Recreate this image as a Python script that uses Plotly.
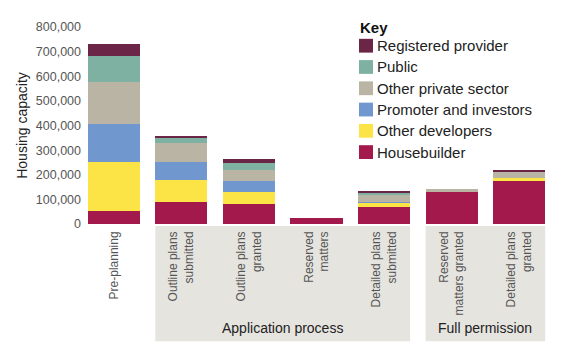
import plotly.graph_objects as go

categories = ["Pre-planning", "Outline plans<br>submitted", "Outline plans<br>granted",
              "Reserved<br>matters", "Detailed plans<br>submitted",
              "Reserved<br>matters granted", "Detailed plans<br>granted"]

housebuilder = [53000, 88000, 83000, 25000, 69000, 128000, 173000]
other_developers = [200000, 91000, 49000, 0, 17000, 0, 12000]
promoter_investors = [152000, 73000, 44000, 0, 4000, 0, 0]
other_private = [171000, 77000, 43000, 0, 31000, 13000, 27000]
public = [107000, 20000, 30000, 0, 8000, 0, 0]
registered_provider = [50000, 10000, 15000, 0, 7000, 0, 8000]

series_names = ["Housebuilder", "Other developers", "Promoter and investors",
                "Other private sector", "Public", "Registered provider"]
series_values = [housebuilder, other_developers, promoter_investors,
                 other_private, public, registered_provider]
series_colors = ["#a3194b", "#fce446", "#7098cf", "#bab4a5", "#7fb1a3", "#6b2546"]

y_ticks = [0, 100000, 200000, 300000, 400000, 500000, 600000, 700000, 800000]

groups = [("Application process", 1, 4), ("Full permission", 5, 6)]

FONT = "Liberation Sans, Arial, sans-serif"
OFF = 8  # page body margin
W, H = 585 - OFF, 359 - OFF
ML, MR, MT, MB = 80 - OFF, 32, 24 - OFF, 135
PW, PH = W - ML - MR, H - MT - MB
BARGAP = 0.23
HALF = (1 - BARGAP) / 2


def px(xp):
    return (xp - OFF - ML) / PW


def py(yp):
    return (MT + PH - (yp - OFF)) / PH


fig = go.Figure()
for name, vals, col in zip(series_names, series_values, series_colors):
    fig.add_trace(go.Bar(x=list(range(len(categories))), y=vals, name=name,
                         marker=dict(color=col, line=dict(width=0)),
                         showlegend=False))

shapes = []
annotations = []
for label, i0, i1 in groups:
    shapes.append(dict(type="rect", xref="x", yref="paper",
                       x0=i0 - HALF, x1=i1 + HALF, y0=py(226), y1=py(343),
                       fillcolor="#e6e4df", line=dict(width=0), layer="below"))
    annotations.append(dict(text=label, xref="x", yref="paper",
                            x=(i0 + i1) / 2, y=py(330), showarrow=False,
                            font=dict(family=FONT, size=14, color="#222222"),
                            xanchor="center", yanchor="middle"))

# Key (legend)
annotations.append(dict(text="<b>Key</b>", xref="paper", yref="paper",
                        x=px(358), y=py(24), showarrow=False, xanchor="left",
                        yanchor="middle",
                        font=dict(family=FONT, size=15, color="#111111")))
legend_order = list(reversed(range(len(series_names))))
for k, idx in enumerate(legend_order):
    cy = 43 + 21.6 * k
    shapes.append(dict(type="rect", xref="paper", yref="paper",
                       x0=px(359), x1=px(373), y0=py(cy - 7), y1=py(cy + 7),
                       fillcolor=series_colors[idx], line=dict(width=0)))
    annotations.append(dict(text=series_names[idx], xref="paper", yref="paper",
                            x=px(375), y=py(cy), showarrow=False,
                            xanchor="left", yanchor="middle",
                            font=dict(family=FONT, size=15, color="#222222")))

fig.update_layout(
    width=W, height=H,
    margin=dict(l=ML, r=MR, t=MT, b=MB, pad=0),
    barmode="stack", bargap=BARGAP,
    plot_bgcolor="white", paper_bgcolor="white",
    font=dict(family=FONT, color="#555555"),
    shapes=shapes, annotations=annotations,
    xaxis=dict(tickmode="array", tickvals=list(range(len(categories))),
               ticktext=categories, tickangle=-90, range=[-0.5, len(categories) - 0.5],
               showgrid=False, showline=False, zeroline=False, ticks="",
               ticklabelstandoff=4,
               tickfont=dict(family=FONT, size=12, color="#555555")),
    yaxis=dict(range=[0, 800000], tickvals=y_ticks, tickformat=",",
               showgrid=False, showline=False, zeroline=False, ticks="",
               ticklabelstandoff=-2,
               tickfont=dict(family=FONT, size=12.5, color="#555555"),
               title=dict(text="Housing capacity",
                          font=dict(family=FONT, size=14, color="#222222"),
                          standoff=4)),
)

fig.write_html("out.html")
